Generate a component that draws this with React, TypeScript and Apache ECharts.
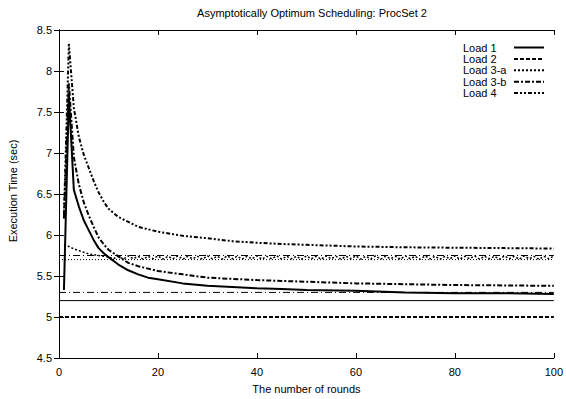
import React, { useEffect, useRef } from "react";
import * as echarts from "echarts";

const FONT = '"Liberation Sans", Arial, Helvetica, sans-serif';

// Rounds at which curves were sampled
const rounds = [1, 2, 3, 4, 5, 6, 7, 8, 9, 10, 12, 14, 16, 18, 20, 25, 30, 35, 40, 45, 50, 60, 70, 80, 90, 100];

const load1 = [5.33, 7.7, 6.55, 6.35, 6.18, 6.06, 5.94, 5.84, 5.78, 5.73, 5.64, 5.57, 5.52, 5.48, 5.46, 5.41, 5.38, 5.365, 5.35, 5.34, 5.33, 5.32, 5.3, 5.29, 5.29, 5.28];
const load3b = [6.2, 7.85, 6.95, 6.62, 6.4, 6.24, 6.1, 5.97, 5.89, 5.82, 5.74, 5.66, 5.62, 5.59, 5.56, 5.52, 5.48, 5.465, 5.45, 5.44, 5.43, 5.41, 5.4, 5.39, 5.385, 5.38];
const load4 = [6.25, 8.33, 7.55, 7.2, 6.98, 6.82, 6.66, 6.52, 6.41, 6.32, 6.22, 6.16, 6.1, 6.07, 6.04, 5.99, 5.96, 5.925, 5.905, 5.89, 5.88, 5.86, 5.85, 5.845, 5.84, 5.835];

const load2Rounds = [0, 100];
const load2 = [5.0, 5.0];

const load3a = [
  5.88, 5.86, 5.83, 5.81, 5.79, 5.77, 5.76, 5.75, 5.74, 5.735,
  5.71, 5.74, 5.705, 5.745, 5.71, 5.74, 5.705, 5.74, 5.71, 5.745,
  5.705, 5.74, 5.71, 5.745, 5.705, 5.74, 5.71, 5.74, 5.705, 5.745,
  5.71, 5.74, 5.705, 5.745, 5.71, 5.74, 5.705, 5.74, 5.71, 5.745,
  5.705, 5.74, 5.71, 5.745, 5.705, 5.74, 5.71, 5.74, 5.705, 5.745,
  5.71, 5.74, 5.705, 5.745, 5.71, 5.74, 5.705, 5.74, 5.71, 5.745,
  5.705, 5.74, 5.71, 5.745, 5.705, 5.74, 5.71, 5.74, 5.705, 5.745,
  5.71, 5.74, 5.705, 5.745, 5.71, 5.74, 5.705, 5.74, 5.71, 5.745,
  5.705, 5.74, 5.71, 5.745, 5.705, 5.74, 5.71, 5.74, 5.705, 5.745,
  5.71, 5.74, 5.705, 5.745, 5.71, 5.74, 5.705, 5.74, 5.71, 5.745,
];

// Asymptote reference levels
const refLevels = [5.2, 5.3, 5.7, 5.75];
const refRange = [0, 100];

const xTicks = { min: 0, max: 100, interval: 20 };
const yTicks = { min: 4.5, max: 8.5, interval: 0.5 };

const legendNames = ["Load 1", "Load 2", "Load 3-a", "Load 3-b", "Load 4"];

export default function App() {
  const ref = useRef<HTMLDivElement>(null);
  useEffect(() => {
    const chart = echarts.init(ref.current!, null, { renderer: "svg" });
    const pairs = (xs: number[], ys: number[]) => xs.map((x, i) => [x, ys[i]]);
    const rounds3a = load3a.map((_, i) => i + 1);

    const base = (name: string, data: number[][], type: any, width: number, z = 3) => ({
      name,
      type: "line",
      data,
      symbol: "none",
      showSymbol: false,
      z,
      lineStyle: { color: "#000", width, type },
      itemStyle: { color: "#000" },
    });

    const refTypes: any[] = ["solid", [7, 3, 1, 3], [1, 2], [7, 3, 1, 3]];
    const refSeries = refLevels.map((v, i) =>
      base("ref" + i, pairs(refRange, [v, v]), refTypes[i], 1, 2)
    );

    const axisCommon = {
      axisLine: { show: true, lineStyle: { color: "#000", width: 1 } },
      axisTick: { show: true, inside: true, length: 5, lineStyle: { color: "#000" } },
      splitLine: { show: false },
    };
    const labelStyle = { color: "#000", fontSize: 11, fontFamily: FONT };

    chart.setOption({
      animation: false,
      backgroundColor: "#fff",
      title: {
        text: "Asymptotically Optimum Scheduling: ProcSet 2",
        left: 307,
        top: 2,
        textAlign: "center",
        textStyle: { color: "#000", fontSize: 11, fontWeight: "normal", fontFamily: FONT },
      },
      legend: {
        data: legendNames,
        orient: "vertical",
        left: 458,
        top: 37,
        align: "right",
        itemWidth: 30,
        itemHeight: 10,
        itemGap: 0.4,
        itemStyle: { opacity: 0 },
        formatter: (n: string) => "{a|" + n + "}",
        textStyle: {
          color: "#000",
          fontSize: 11,
          fontFamily: FONT,
          lineHeight: 10,
          rich: {
            a: { width: 46, align: "left", color: "#000", fontSize: 11, fontFamily: FONT, lineHeight: 10 },
          },
        },
      },
      grid: { left: 59, right: 10, top: 30, bottom: 36 },
      xAxis: [
        {
          type: "value",
          ...xTicks,
          position: "bottom",
          ...axisCommon,
          axisLabel: { ...labelStyle, margin: 8 },
          name: "The number of rounds",
          nameLocation: "middle",
          nameGap: 25,
          nameTextStyle: labelStyle,
        },
        {
          type: "value",
          ...xTicks,
          position: "top",
          ...axisCommon,
          axisLabel: { show: false },
        },
      ],
      yAxis: [
        {
          type: "value",
          ...yTicks,
          position: "left",
          ...axisCommon,
          axisLabel: { ...labelStyle, margin: 7 },
        },
        {
          type: "value",
          ...yTicks,
          position: "right",
          ...axisCommon,
          axisLabel: { show: false },
        },
      ],
      graphic: [
        {
          type: "text",
          x: 13,
          y: 191,
          rotation: Math.PI / 2,
          style: {
            text: "Execution Time (sec)",
            fill: "#000",
            fontSize: 11,
            fontFamily: FONT,
            align: "center",
            verticalAlign: "middle",
          },
        },
      ],
      series: [
        ...refSeries,
        base("Load 1", pairs(rounds, load1), "solid", 2),
        base("Load 2", pairs(load2Rounds, load2), [4, 2], 2),
        base("Load 3-a", pairs(rounds3a, load3a), [2, 2], 1.5),
        base("Load 3-b", pairs(rounds, load3b), [5, 2, 2, 2], 2),
        base("Load 4", pairs(rounds, load4), [4, 2, 2, 2, 2, 2], 2),
      ],
    });
    return () => chart.dispose();
  }, []);
  return <div ref={ref} style={{ position: "fixed", left: 0, top: 0, width: 566, height: 399 }} />;
}
